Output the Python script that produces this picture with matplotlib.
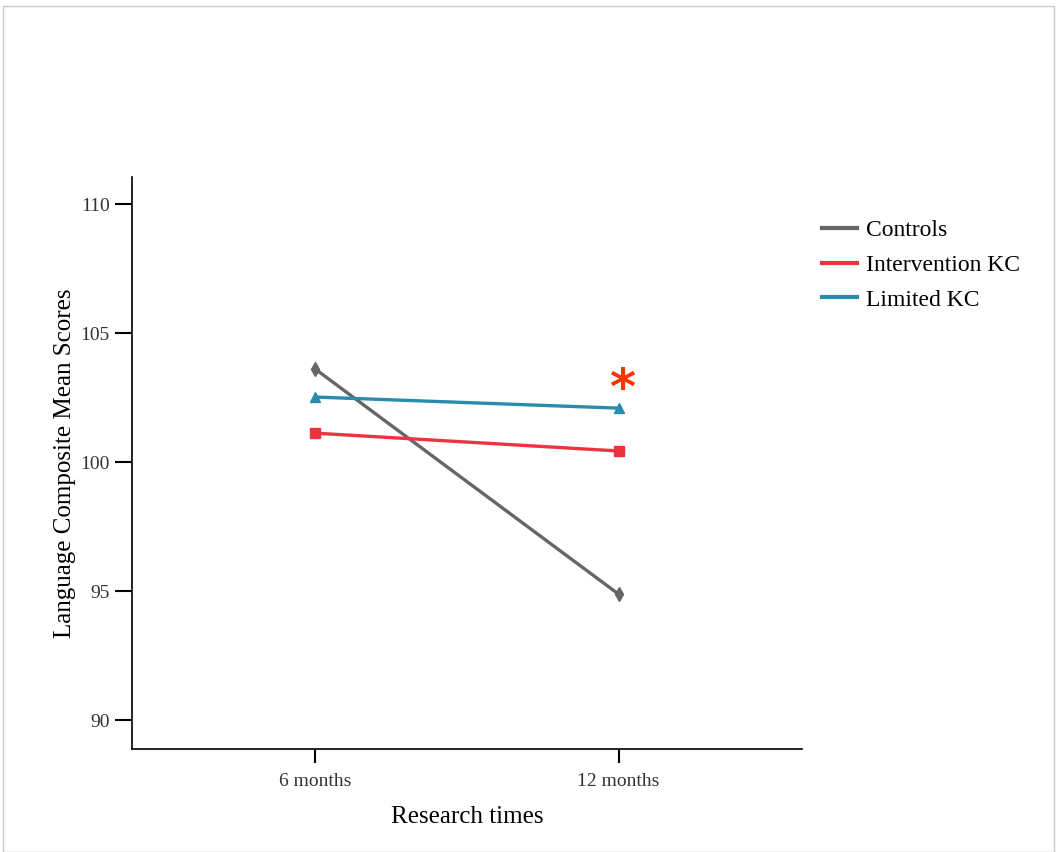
import matplotlib
matplotlib.use("Agg")
import matplotlib.pyplot as plt
from matplotlib.patches import Rectangle

times = ["6 months", "12 months"]
controls = [103.6, 94.88]
intervention = [101.12, 100.43]
limited = [102.52, 102.09]
yticks = [90, 95, 100, 105, 110]

plt.rcParams['font.family'] = ['Liberation Serif', 'DejaVu Serif']

fig = plt.figure(figsize=(10.57, 8.52), dpi=100)
fig.patches.append(Rectangle((0.003, 0.0), 0.994, 0.993, transform=fig.transFigure,
                             fill=False, edgecolor='#c8c8c8', linewidth=1.0))
ax = fig.add_axes([0.1249, 0.1209, 0.6339, 0.6714])

x = [0, 1]
ax.plot(x, controls, color='#666666', lw=2.4, marker='d', ms=7, label='Controls')
ax.plot(x, intervention, color='#EE3340', lw=2.4, marker='s', ms=7, label='Intervention KC')
ax.plot(x, limited, color='#2A8CAC', lw=2.4, marker='^', ms=7, label='Limited KC')

ax.text(1.01, limited[1] + 0.7, '*', color='#FF3300', fontsize=36, fontweight='bold',
        ha='center', va='center', family='DejaVu Sans')

ax.set_xlim(-0.605, 1.605)
ax.set_ylim(88.88, 111.05)
ax.set_xticks(x)
ax.set_xticklabels(times, fontsize=14)
ax.set_yticks(yticks)
ax.set_yticklabels([str(v) for v in yticks], fontsize=14, color='#333333')
ax.tick_params(axis='y', length=12, width=1.5, pad=4)
ax.tick_params(axis='x', length=10, width=1.5, pad=7)
for lab in ax.get_xticklabels():
    lab.set_color('#333333')
ax.spines['top'].set_visible(False)
ax.spines['right'].set_visible(False)
ax.spines['left'].set_linewidth(1.2)
ax.spines['bottom'].set_linewidth(1.2)

ax.set_xlabel('Research times', fontsize=18, labelpad=12)
ax.set_ylabel('Language Composite Mean Scores', fontsize=18, labelpad=3)

leg = ax.legend(loc='upper left', bbox_to_anchor=(0.998, 0.962), frameon=False,
                fontsize=17, handlelength=1.5, handletextpad=0.35, labelspacing=0.55)
for h in leg.get_lines():
    h.set_marker('')
    h.set_linewidth(3)

fig.savefig('out.png', dpi=100)
